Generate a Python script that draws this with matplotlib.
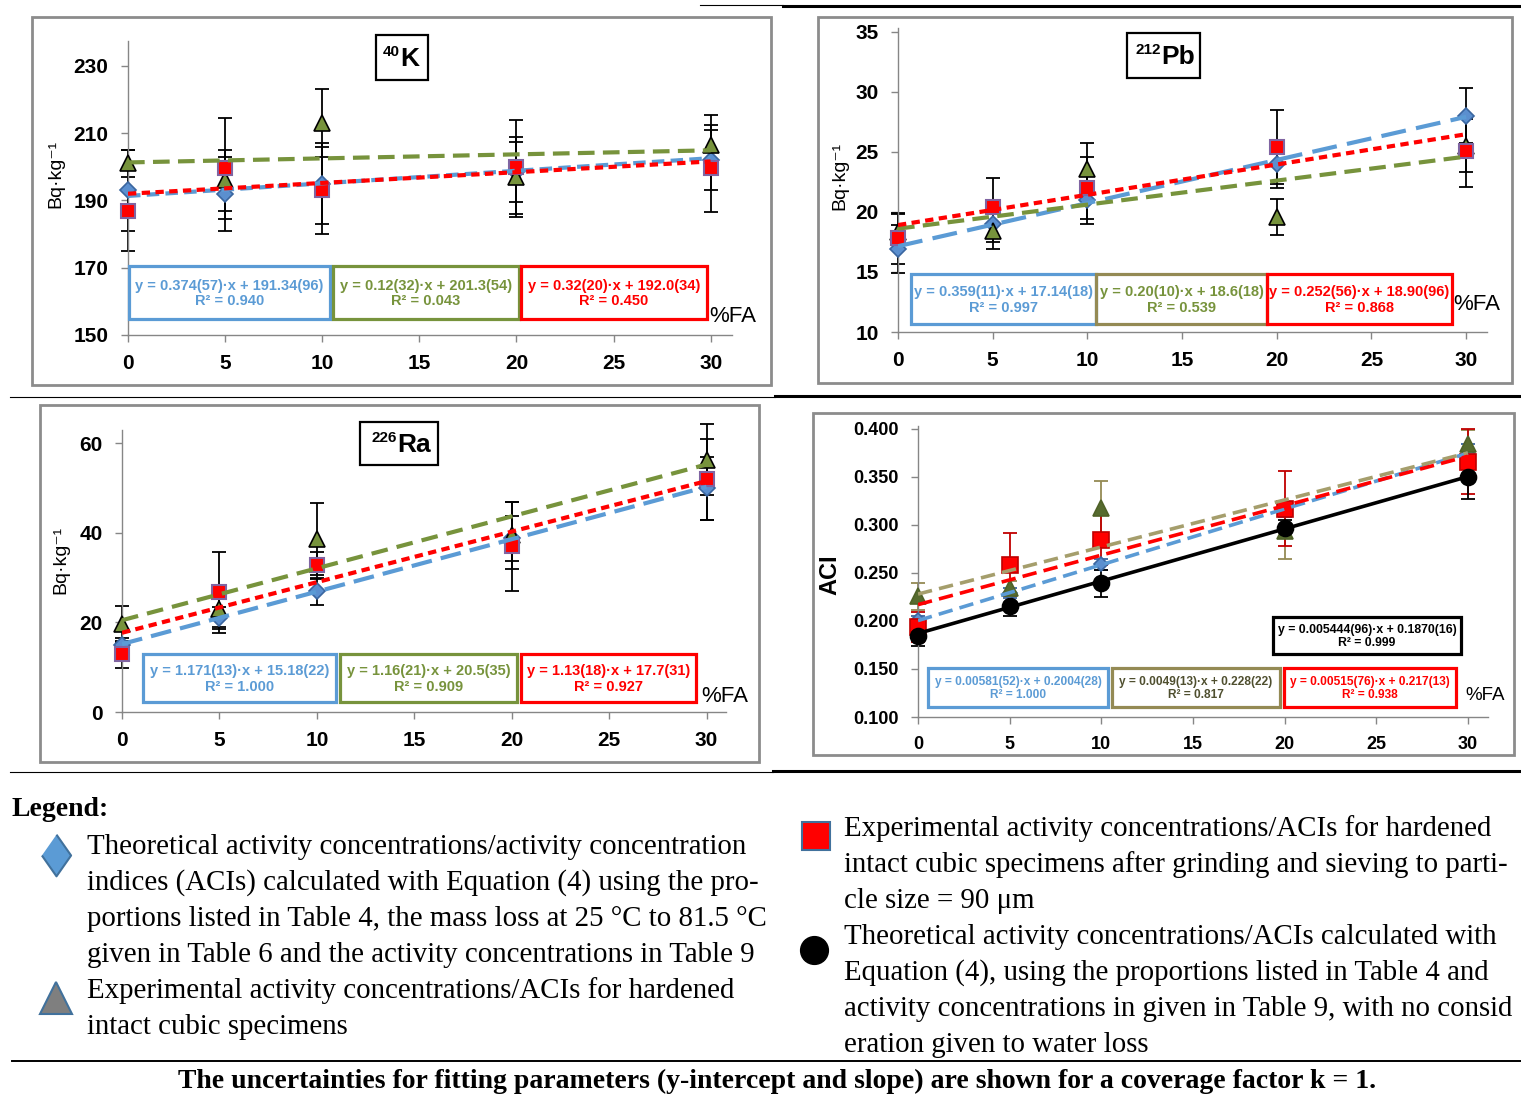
import matplotlib
matplotlib.use('Agg')
import matplotlib.pyplot as plt
from matplotlib.patches import Rectangle
import numpy as np

W, H = 1521, 1096
SANS = ['Liberation Sans', 'DejaVu Sans']
SERIF = ['Liberation Serif', 'DejaVu Serif']
plt.rcParams['font.family'] = SANS

# %FA levels
x = [0, 5, 10, 20, 30]

# 40K (Bq/kg)
k_theo = [193.0, 192.0, 195.0, 198.5, 202.0]
k_theo_err = [12, 11, 12, 9, 9]
k_cube = [201.0, 196.0, 213.0, 197.0, 206.5]
k_cube_err = [4, 9, 10, 12, 9]
k_ground = [187.0, 199.5, 193.0, 200.0, 199.5]
k_ground_err = [12, 15, 13, 14, 13]
k_fits = [(0.374, 191.34), (0.12, 201.3), (0.32, 192.0)]
k_eqs = ['y = 0.374(57)·x + 191.34(96)\nR² = 0.940',
         'y = 0.12(32)·x + 201.3(54)\nR² = 0.043',
         'y = 0.32(20)·x + 192.0(34)\nR² = 0.450']

# 212Pb (Bq/kg)
pb_theo = [16.9, 19.0, 21.0, 24.0, 28.0]
pb_theo_err = [2.0, 1.5, 2.0, 2.0, 2.3]
pb_cube = [18.3, 18.4, 23.6, 19.6, 25.5]
pb_cube_err = [1.5, 1.5, 2.1, 1.5, 2.2]
pb_ground = [17.8, 20.4, 22.0, 25.4, 25.1]
pb_ground_err = [2.1, 2.4, 2.6, 3.1, 3.0]
pb_fits = [(0.359, 17.14), (0.20, 18.6), (0.252, 18.90)]
pb_eqs = ['y = 0.359(11)·x + 17.14(18)\nR² = 0.997',
          'y = 0.20(10)·x + 18.6(18)\nR² = 0.539',
          'y = 0.252(56)·x + 18.90(96)\nR² = 0.868']

# 226Ra (Bq/kg)
ra_theo = [15.0, 21.0, 27.0, 38.8, 50.0]
ra_theo_err = [1.5, 2.5, 3.0, 5.0, 7.0]
ra_cube = [19.6, 22.9, 38.7, 39.5, 56.4]
ra_cube_err = [4.0, 4.0, 8.0, 7.5, 8.0]
ra_ground = [12.9, 26.7, 32.8, 37.0, 52.0]
ra_ground_err = [3.0, 9.0, 3.0, 10.0, 9.0]
ra_fits = [(1.171, 15.18), (1.16, 20.5), (1.13, 17.7)]
ra_eqs = ['y = 1.171(13)·x + 15.18(22)\nR² = 1.000',
          'y = 1.16(21)·x + 20.5(35)\nR² = 0.909',
          'y = 1.13(18)·x + 17.7(31)\nR² = 0.927']

# ACI
aci_theo = [0.2006, 0.229, 0.259, 0.316, 0.374]
aci_theo_err = [0.005, 0.005, 0.006, 0.008, 0.010]
aci_cube = [0.2256, 0.2342, 0.318, 0.294, 0.384]
aci_cube_err = [0.014, 0.007, 0.028, 0.030, 0.015]
aci_ground = [0.1937, 0.2585, 0.2845, 0.3168, 0.366]
aci_ground_err = [0.016, 0.033, 0.026, 0.039, 0.034]
aci_nowater = [0.1839, 0.2158, 0.2394, 0.2967, 0.3494]
aci_nowater_err = [0.010, 0.011, 0.014, 0.008, 0.022]
aci_fits = [(0.00581, 0.2004), (0.0049, 0.228), (0.00515, 0.217), (0.005444, 0.1870)]
aci_eqs = ['y = 0.00581(52)·x + 0.2004(28)\nR² = 1.000',
           'y = 0.0049(13)·x + 0.228(22)\nR² = 0.817',
           'y = 0.00515(76)·x + 0.217(13)\nR² = 0.938',
           'y = 0.005444(96)·x + 0.1870(16)\nR² = 0.999']

BLUE_F, BLUE_E, BLUE_L = '#5B8FCF', '#3A66A0', '#5B9BD5'
GREEN = '#77933C'
OLIVE = '#948A54'
KHAKI = '#A59E6C'
RED, PURPLE, DARKRED = '#FF0000', '#8064A2', '#C00000'
SPINE = '#868686'

fig = plt.figure(figsize=(W / 100, H / 100), dpi=100)


def add_ax(left, top, right, bottom):
    ax = fig.add_axes([left / W, 1 - bottom / H, (right - left) / W, (bottom - top) / H])
    ax.px_box = (left, top, right, bottom)
    return ax


def style_axes(ax, xlim, ylim, yticks, fs, fmt=None):
    ax.patch.set_alpha(0)
    ax.set_xlim(*xlim)
    ax.set_ylim(*ylim)
    for s in ['top', 'right']:
        ax.spines[s].set_visible(False)
    for s in ['left', 'bottom']:
        ax.spines[s].set_color(SPINE)
        ax.spines[s].set_linewidth(1.0)
    ax.set_xticks([0, 5, 10, 15, 20, 25, 30])
    ax.set_yticks(yticks)
    if fmt:
        ax.set_yticklabels([fmt.format(v) for v in yticks])
    ax.tick_params(direction='out', length=5, width=1, color=SPINE, labelsize=fs, pad=9)
    for lab in ax.get_xticklabels() + ax.get_yticklabels():
        lab.set_fontweight('bold')


def place_ylabel(ax, text, px_right, py, **kw):
    # px_right: pixel x of the label's right edge, py: pixel y of its centre
    l, t, r, b = ax.px_box
    ax.set_ylabel(text, **kw)
    ax.yaxis.set_label_coords((px_right - l) / (r - l), (b - py) / (b - t))


def draw_series(ax, y, err, marker, ms, fc, ec, ecol='black', mew=1.2):
    ax.errorbar(x, y, yerr=err, fmt='none', ecolor=ecol, elinewidth=1.3,
                capsize=5, capthick=1.3, zorder=2, clip_on=False)
    ax.plot(x, y, ls='none', marker=marker, ms=ms, mfc=fc, mec=ec, mew=mew,
            zorder=3, clip_on=False)


def draw_fit(ax, fit, color, dashes, lw=3.0):
    xf = np.array([0, 30])
    ax.plot(xf, fit[1] + fit[0] * xf, color=color, lw=lw, dashes=dashes,
            zorder=4, dash_capstyle='butt')


# overlay in pixel coordinates for frames, boxes and legend text
ov = fig.add_axes([0, 0, 1, 1], zorder=5)
ov.set_xlim(0, W)
ov.set_ylim(H, 0)
ov.axis('off')
ov.patch.set_alpha(0)


def frame(l, t, r, b, color='#8C8C8C', lw=2.0):
    ov.add_patch(Rectangle((l, t), r - l, b - t, fill=False, ec=color, lw=lw))


def eq_box(l, t, r, b, text, color, tcolor=None, fs=10.5):
    frame(l, t, r, b, color=color, lw=2.3)
    ov.text((l + r) / 2, (t + b) / 2 + 1, text, ha='center', va='center',
            color=tcolor or color, fontsize=fs, fontweight='bold',
            linespacing=1.1)


def title_box(l, t, r, b, mass, elem, split):
    frame(l, t, r, b, color='black', lw=1.6)
    cy = (t + b) / 2
    ov.text(split, cy - 6, mass, ha='right', va='center', fontsize=11,
            fontweight='bold')
    ov.text(split, cy + 2, elem, ha='left', va='center', fontsize=19,
            fontweight='bold')


# ---- 40K ----
ax1 = add_ax(128, 41, 732, 335)
style_axes(ax1, (0, 31.1), (150, 237.4), [150, 170, 190, 210, 230], 15)
draw_series(ax1, k_theo, k_theo_err, 'D', 8, BLUE_F, BLUE_E)
draw_series(ax1, k_cube, k_cube_err, '^', 11, GREEN, 'black')
draw_series(ax1, k_ground, k_ground_err, 's', 10.5, RED, PURPLE, mew=1.5)
draw_fit(ax1, k_fits[0], BLUE_L, (3, 1.5))
draw_fit(ax1, k_fits[1], GREEN, (4, 2))
draw_fit(ax1, k_fits[2], RED, (2, 1.3))
place_ylabel(ax1, 'Bq·kg⁻¹', 64, 174, fontsize=14)

# ---- 212Pb ----
ax2 = add_ax(898, 28, 1487, 332)
style_axes(ax2, (0, 31.1), (10, 35.3), [10, 15, 20, 25, 30, 35], 15)
draw_series(ax2, pb_theo, pb_theo_err, 'D', 8, BLUE_F, BLUE_E)
draw_series(ax2, pb_cube, pb_cube_err, '^', 11, GREEN, 'black')
draw_series(ax2, pb_ground, pb_ground_err, 's', 10.5, RED, PURPLE, mew=1.5)
draw_fit(ax2, pb_fits[0], BLUE_L, (6, 2.5))
draw_fit(ax2, pb_fits[1], GREEN, (4, 2))
draw_fit(ax2, pb_fits[2], RED, (2, 1.3))
place_ylabel(ax2, 'Bq·kg⁻¹', 848, 176, fontsize=14)

# ---- 226Ra ----
ax3 = add_ax(122, 430, 726, 712)
style_axes(ax3, (0, 31.0), (0, 63), [0, 20, 40, 60], 15)
draw_series(ax3, ra_theo, ra_theo_err, 'D', 8, BLUE_F, BLUE_E)
draw_series(ax3, ra_cube, ra_cube_err, '^', 11, GREEN, 'black')
draw_series(ax3, ra_ground, ra_ground_err, 's', 10.5, RED, PURPLE, mew=1.5)
draw_fit(ax3, ra_fits[0], BLUE_L, (5, 2.2))
draw_fit(ax3, ra_fits[1], GREEN, (4, 2.2))
draw_fit(ax3, ra_fits[2], RED, (2, 1.3))
place_ylabel(ax3, 'Bq·kg⁻¹', 69, 560, fontsize=14)

# ---- ACI ----
ax4 = add_ax(918, 426, 1488, 717)
style_axes(ax4, (0, 31.1), (0.1, 0.403), [0.1, 0.15, 0.2, 0.25, 0.3, 0.35, 0.4], 13,
           fmt='{:.3f}')
draw_series(ax4, aci_theo, aci_theo_err, 'D', 7.5, BLUE_F, BLUE_E, ecol=BLUE_E)
draw_series(ax4, aci_cube, aci_cube_err, '^', 11, '#566B2F', '#4F6228', ecol=OLIVE)
draw_series(ax4, aci_ground, aci_ground_err, 's', 11, RED, DARKRED, ecol=DARKRED)
draw_series(ax4, aci_nowater, aci_nowater_err, 'o', 11.5, 'black', 'black')
draw_fit(ax4, aci_fits[0], BLUE_L, (4, 2), lw=2.6)
draw_fit(ax4, aci_fits[1], KHAKI, (4, 2), lw=2.6)
draw_fit(ax4, aci_fits[2], RED, (4, 2), lw=2.6)
xf = np.array([0, 30])
ax4.plot(xf, aci_fits[3][1] + aci_fits[3][0] * xf, color='black', lw=2.6, zorder=4)
place_ylabel(ax4, 'ACI', 841, 575, fontsize=17, fontweight='bold')

# panel frames
frame(32, 17, 771, 385)
frame(818, 17, 1512, 383)
frame(40, 405, 759, 762)
frame(813, 413, 1514, 755)

# titles
title_box(376, 35, 428, 80, '40', 'K', 400)
title_box(1127, 33, 1200, 78, '212', 'Pb', 1161)
title_box(360, 422, 438, 465, '226', 'Ra', 397)

# equation boxes
eq_box(129, 266, 330, 319, k_eqs[0], BLUE_L)
eq_box(333, 266, 519, 319, k_eqs[1], GREEN)
eq_box(521, 266, 707, 319, k_eqs[2], RED)
eq_box(911, 274, 1096, 324, pb_eqs[0], BLUE_L)
eq_box(1096, 274, 1267, 324, pb_eqs[1], OLIVE, tcolor=GREEN)
eq_box(1267, 274, 1452, 324, pb_eqs[2], RED)
eq_box(143, 654, 336, 702, ra_eqs[0], BLUE_L)
eq_box(340, 654, 517, 702, ra_eqs[1], GREEN)
eq_box(521, 654, 696, 702, ra_eqs[2], RED)
eq_box(928, 668, 1108, 707, aci_eqs[0], BLUE_L, fs=8.6)
eq_box(1112, 668, 1280, 707, aci_eqs[1], OLIVE, tcolor='#4F4F2F', fs=8.6)
eq_box(1284, 668, 1456, 707, aci_eqs[2], RED, fs=8.6)
eq_box(1273, 617, 1461, 654, aci_eqs[3], 'black', fs=8.8)

for xp, yp, fs in [(733, 317, 16), (1477, 305, 16), (725, 696, 16), (1485, 695, 13.5)]:
    ov.text(xp, yp, '%FA', ha='center', va='center', fontsize=fs)

# separator rules
ov.plot([700, 783], [5, 5], color='black', lw=0.8)
ov.plot([783, 1521], [6, 6], color='black', lw=2.2)
ov.plot([10, 775], [397, 397], color='black', lw=0.8)
ov.plot([775, 1521], [396, 396], color='black', lw=2.2)
ov.plot([10, 773], [772, 772], color='black', lw=0.8)
ov.plot([773, 1521], [771, 771], color='black', lw=2.2)
ov.plot([12, 1521], [1061, 1061], color='black', lw=1.4)

# legend
ov.text(12, 810, 'Legend:', fontsize=20, fontweight='bold', family=SERIF, va='center')
ov.plot(56, 855, marker=[(0, 1), (0.7, 0), (0, -1), (-0.7, 0)], ms=30,
        mfc='#5B9BD5', mec='#41719C', mew=1.5)
ov.plot(56, 998, marker='^', ms=23, mfc='#7F7F7F', mec='#41719C', mew=1.5)
ov.plot(816, 836, marker='s', ms=20, mfc=RED, mec='#41719C', mew=1.5)
ov.plot(814, 950, marker='o', ms=20, mfc='black', mec='black')

left_lines = ['Theoretical activity concentrations/activity concentration',
              'indices (ACIs) calculated with Equation (4) using the pro-',
              'portions listed in Table 4, the mass loss at 25 °C to 81.5 °C',
              'given in Table 6 and the activity concentrations in Table 9',
              'Experimental activity concentrations/ACIs for hardened',
              'intact cubic specimens']
right_lines = ['Experimental activity concentrations/ACIs for hardened',
               'intact cubic specimens after grinding and sieving to parti-',
               'cle size = 90 μm',
               'Theoretical activity concentrations/ACIs calculated with',
               'Equation (4), using the proportions listed in Table 4 and',
               'activity concentrations in given in Table 9, with no consid',
               'eration given to water loss']
for i, s in enumerate(left_lines):
    ov.text(87, 847 + 36 * i, s, fontsize=20.8, family=SERIF, va='center')
for i, s in enumerate(right_lines):
    ov.text(844, 829 + 36 * i, s, fontsize=20.8, family=SERIF, va='center')

ov.text(777, 1081, 'The uncertainties for fitting parameters (y-intercept and slope) '
        'are shown for a coverage factor k = 1.', fontsize=20, fontweight='bold',
        family=SERIF, ha='center', va='center')

fig.savefig('out.png', dpi=100)
